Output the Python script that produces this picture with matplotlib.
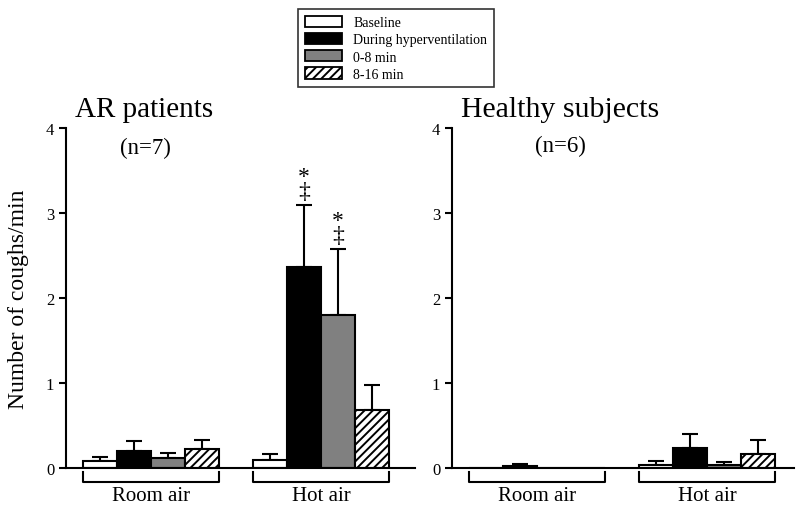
import matplotlib.pyplot as plt
from matplotlib.patches import Patch

plt.rcParams['font.family'] = ['Liberation Serif', 'DejaVu Serif']

conditions = ["Baseline", "During hyperventilation", "0-8 min", "8-16 min"]
groups = ["Room air", "Hot air"]

# means and upper error (mean + SE), per group
ar_means = [[0.08, 0.20, 0.12, 0.22], [0.10, 2.37, 1.80, 0.68]]
ar_tops = [[0.13, 0.32, 0.18, 0.33], [0.16, 3.10, 2.58, 0.98]]
hs_means = [[0.0, 0.02, 0.0, 0.0], [0.04, 0.23, 0.04, 0.16]]
hs_tops = [[0.0, 0.05, 0.0, 0.0], [0.08, 0.40, 0.07, 0.33]]

faces = ["white", "black", "#808080", "white"]
hatches = [None, None, None, "////"]
plt.rcParams['hatch.linewidth'] = 1.4

fig = plt.figure(figsize=(8, 5.1), dpi=100)
ax1 = fig.add_axes([66 / 800, 41 / 510, 349 / 800, 340 / 510])
ax2 = fig.add_axes([452 / 800, 41 / 510, 342 / 800, 340 / 510])


def draw_panel(ax, means, tops, xmax, stars):
    starts = [1, 6]
    for g, x0 in enumerate(starts):
        for i in range(4):
            x = x0 + i
            m = means[g][i]
            ax.bar(x, m, width=1.0, color=faces[i], edgecolor="black",
                   linewidth=1.5, hatch=hatches[i], zorder=2)
            if tops[g][i] > m:
                ax.errorbar(x, m, yerr=[[0], [tops[g][i] - m]], fmt="none",
                            ecolor="black", elinewidth=1.5, capsize=6,
                            capthick=1.5, zorder=1)
        # bracket under the group
        ax.plot([x0 - 0.5, x0 - 0.5, x0 + 3.5, x0 + 3.5], [-0.05, -0.16, -0.16, -0.05],
                color="black", lw=1.5, clip_on=False)
        ax.text(x0 + 1.5, -0.21, groups[g], ha="center", va="top", fontsize=15)
    for g, i in stars:
        x = starts[g] + i
        y = tops[g][i]
        ax.text(x, y + 0.03, "*\n\u2021", ha="center", va="bottom", fontsize=17,
                linespacing=0.65)
    ax.set_xlim(0, xmax)
    ax.set_ylim(0, 4)
    ax.set_xticks([])
    ax.set_yticks([0, 1, 2, 3, 4])
    ax.tick_params(axis="y", direction="out", length=5, width=1.5, labelsize=12)
    for s in ["top", "right"]:
        ax.spines[s].set_visible(False)
    ax.spines["left"].set_linewidth(1.5)
    ax.spines["bottom"].set_linewidth(1.5)


draw_panel(ax1, ar_means, ar_tops, 10.26, [(1, 1), (1, 2)])
draw_panel(ax2, hs_means, hs_tops, 10.05, [])

ax1.set_ylabel("Number of coughs/min", fontsize=17, labelpad=12)

fig.text(75 / 800, 1 - 110 / 510, "AR patients", fontsize=21, va="center", ha="left")
fig.text(145 / 800, 1 - 148 / 510, "(n=7)", fontsize=16.5, va="center", ha="center")
fig.text(461 / 800, 1 - 110 / 510, "Healthy subjects", fontsize=21.5, va="center", ha="left")
fig.text(560 / 800, 1 - 146 / 510, "(n=6)", fontsize=16.5, va="center", ha="center")

handles = [Patch(facecolor=faces[i], edgecolor="black", linewidth=1.3, hatch=hatches[i])
           for i in range(4)]
leg = fig.legend(handles, conditions, loc="upper center", bbox_to_anchor=(396 / 800, 1 - 3 / 510),
                 fontsize=10, frameon=True, fancybox=False, edgecolor="black",
                 handlelength=2.7, handleheight=0.9, borderpad=0.5, labelspacing=0.25,
                 handletextpad=0.8)
leg.get_frame().set_linewidth(1.2)

fig.savefig("out.png", dpi=100)
